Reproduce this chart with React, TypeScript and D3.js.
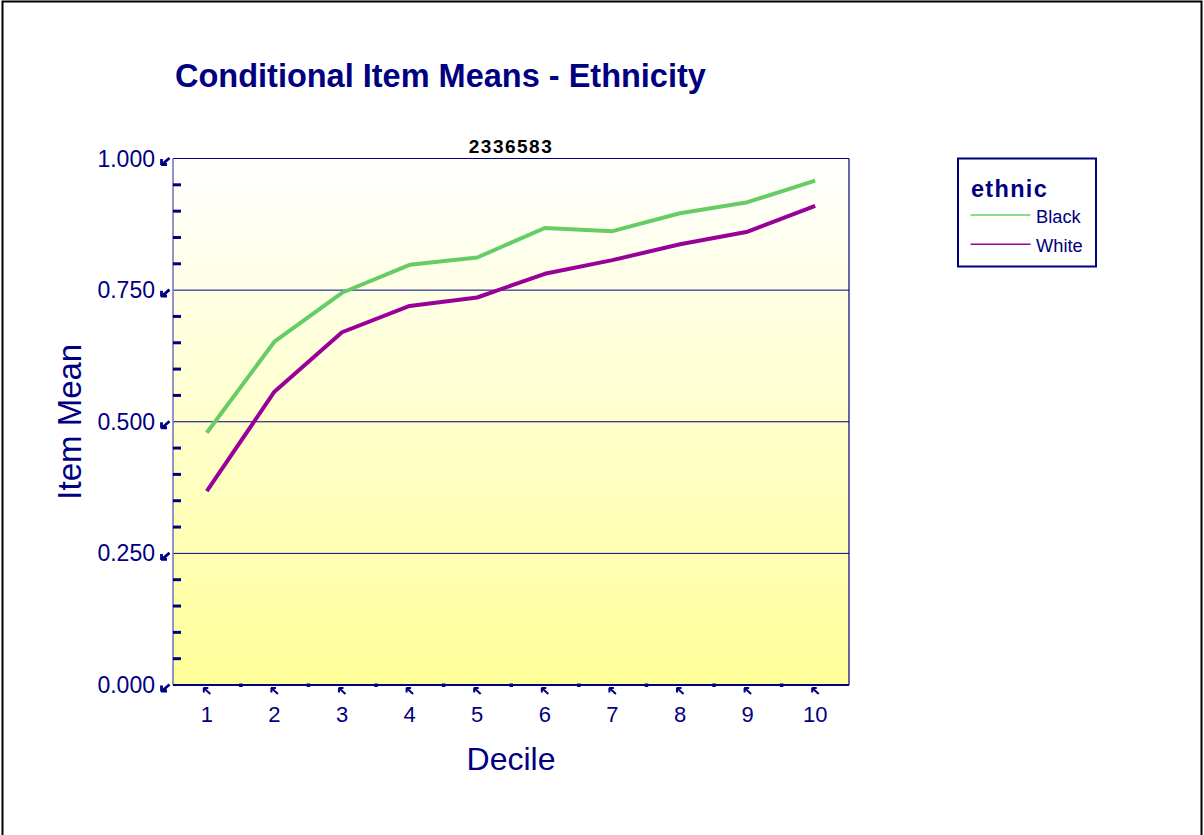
import React from "react";
import * as d3 from "d3";

const deciles = ["1", "2", "3", "4", "5", "6", "7", "8", "9", "10"];
const blackValues = [0.479, 0.652, 0.745, 0.798, 0.812, 0.868, 0.862, 0.896, 0.917, 0.958];
const whiteValues = [0.368, 0.557, 0.670, 0.720, 0.736, 0.781, 0.807, 0.837, 0.861, 0.910];
const yMajorTicks = [0, 0.25, 0.5, 0.75, 1.0];
const yMinorTicks = d3.range(0, 21).map((i) => i * 0.05).filter((v) => Math.round(v * 100) % 25 !== 0);
const seriesNames = ["Black", "White"];
const seriesColors = ["#66cc66", "#990099"];

const NAVY = "#000080";
const FONT = "Arial, 'Liberation Sans', Helvetica, sans-serif";

export default function App() {
  const left = 173, right = 849, top = 158.5, bottom = 685;
  const x = d3.scaleBand<string>().domain(deciles).range([left, right]);
  const y = d3.scaleLinear().domain([0, 1]).range([bottom, top]);
  const line = d3
    .line<number>()
    .x((_, i) => (x(deciles[i]) as number) + x.bandwidth() / 2)
    .y((d) => y(d));
  const series = [blackValues, whiteValues];

  return (
    <svg
      width={1204}
      height={835}
      style={{ position: "absolute", left: 0, top: 0, background: "#fff" }}
      fontFamily={FONT}
    >
      <defs>
        <linearGradient id="bg" x1="0" y1="0" x2="0" y2="1">
          <stop offset="0" stopColor="#ffffff" />
          <stop offset="1" stopColor="#ffff99" />
        </linearGradient>
      </defs>
      <rect x={0} y={0} width={1204} height={835} fill="#fff" />
      {/* outer frame */}
      <path d="M2.5,840 L2.5,1.5 L1201.5,1.5 L1201.5,840" fill="none" stroke="#000" strokeWidth={2} />

      {/* title */}
      <text x={175} y={87} fontSize={32.5} fontWeight="bold" fill={NAVY}>
        Conditional Item Means - Ethnicity
      </text>
      <text x={(left + right) / 2} y={153} fontSize={19} fontWeight="bold" fill="#000" textAnchor="middle" letterSpacing={1.5}>
        2336583
      </text>

      {/* plot area */}
      <rect x={left} y={top} width={right - left} height={bottom - top} fill="url(#bg)" />
      {yMajorTicks.filter((t) => t > 0).map((t) => (
        <line key={"g" + t} x1={left} x2={right} y1={y(t)} y2={y(t)} stroke={NAVY} strokeWidth={1} />
      ))}
      <line x1={right} x2={right} y1={top} y2={bottom} stroke={NAVY} strokeWidth={1.2} />
      <line x1={left} x2={left} y1={top} y2={bottom} stroke="#7070b8" strokeWidth={1.5} />
      <line x1={left} x2={right} y1={bottom} y2={bottom} stroke={NAVY} strokeWidth={2} />

      {/* y minor ticks */}
      {yMinorTicks.map((t) => (
        <line key={"m" + t} x1={left} x2={left + 8} y1={y(t)} y2={y(t)} stroke={NAVY} strokeWidth={3} />
      ))}
      {/* y major labels with arrows */}
      {yMajorTicks.map((t) => (
        <g key={"y" + t}>
          <text x={155} y={y(t) + 8} fontSize={23} fill={NAVY} textAnchor="end">
            {d3.format(".3f")(t)}
          </text>
          <path
            d={`M${169.5},${y(t) - 0.5} L${162},${y(t) + 6} M${161.5},${y(t) + 6.5} L${161.5},${y(t) + 0.5} M${161},${y(t) + 6} L${167},${y(t) + 6}`}
            stroke={NAVY}
            strokeWidth={2.8}
            fill="none"
          />
        </g>
      ))}

      {/* x minor ticks at band boundaries */}
      {deciles.slice(1).map((d) => (
        <rect key={"xb" + d} x={(x(d) as number) - 1.5} y={bottom - 1.5} width={3.5} height={3.5} fill={NAVY} />
      ))}
      {/* x labels with arrows */}
      {deciles.map((d) => {
        const cx = (x(d) as number) + x.bandwidth() / 2;
        return (
          <g key={"x" + d}>
            <path
              d={`M${cx + 3.5},${694} L${cx - 2.5},${688.5} M${cx - 3},${688} L${cx - 3},${692.5} M${cx - 3.5},${688} L${cx + 1.5},${688}`}
              stroke={NAVY}
              strokeWidth={2}
              fill="none"
            />
            <text x={cx} y={722} fontSize={22} fill={NAVY} textAnchor="middle">
              {d}
            </text>
          </g>
        );
      })}

      {/* series */}
      {series.map((s, i) => (
        <path key={"s" + i} d={line(s) as string} fill="none" stroke={seriesColors[i]} strokeWidth={4} strokeLinejoin="round" />
      ))}

      {/* axis titles */}
      <text x={(left + right) / 2} y={770} fontSize={32} fill={NAVY} textAnchor="middle">
        Decile
      </text>
      <text
        transform={`translate(81,${(top + bottom) / 2}) rotate(-90)`}
        fontSize={33}
        fill={NAVY}
        textAnchor="middle"
      >
        Item Mean
      </text>

      {/* legend */}
      <rect x={958} y={158.5} width={138} height={108} fill="#fff" stroke={NAVY} strokeWidth={2} />
      <text x={971} y={196.5} fontSize={23.5} fontWeight="bold" fill={NAVY} letterSpacing={1.3}>
        ethnic
      </text>
      {seriesNames.map((n, i) => (
        <g key={"l" + n}>
          <line x1={970.5} x2={1030.5} y1={215 + i * 29.3} y2={215 + i * 29.3} stroke={seriesColors[i]} strokeWidth={1.5} />
          <text x={1036} y={222.5 + i * 29.3} fontSize={18.3} fill={NAVY}>
            {n}
          </text>
        </g>
      ))}
    </svg>
  );
}
